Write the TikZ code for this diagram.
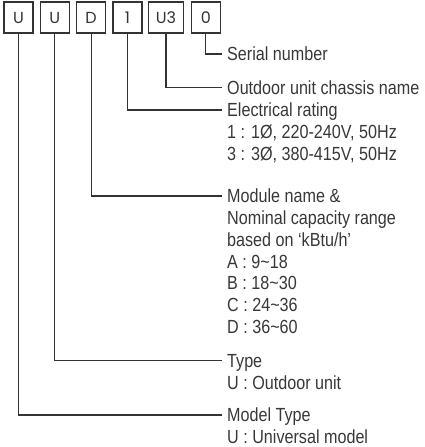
\documentclass[tikz,border=0pt]{standalone}
\usepackage{fontspec}
\setmainfont{Liberation Sans}[FakeStretch=0.85]
\newfontfamily\boxfont{Poppins}
\usetikzlibrary{positioning}

\begin{document}
\begin{tikzpicture}[node distance=36.3pt]

\useasboundingbox (0,0) rectangle (425pt,-447pt);

% Define block styles
\tikzstyle{digitbox} = [rectangle, minimum width=29pt, minimum height=31pt, inner sep=0pt, draw=black!80, line width=1.2pt, text=black!80, font=\boxfont\fontsize{16}{16}\selectfont]
\tikzstyle{headline} = [anchor=west, inner xsep=5pt, inner ysep=0pt, text height=13.6pt, text depth=0pt, text=black!78, font=\fontsize{19}{21.7}\selectfont]
\tikzstyle{detail} = [align=left, inner xsep=5pt, inner ysep=0pt, text=black!78, font=\fontsize{19}{21.7}\selectfont]
\tikzstyle{wire} = [line width=1.2pt, draw=black!80]

% Define nodes
\node (model) [digitbox] at (18.5pt,-17.5pt) {U};
\node (type) [digitbox, right of = model] {U};
\node (module) [digitbox, right of = type] {D};
\node (rating) [digitbox, right of = module] {1};
\node (chassis) [digitbox, right of = rating, xshift=2.3pt, minimum width=35pt] {U3};
\node (serial) [digitbox, right of = chassis, xshift=3.5pt] {0};

\node (serialtxt) [headline] at (222pt,-54pt) {Serial number};
\node (chassistxt) [headline] at (222pt,-87.7pt) {Outdoor unit chassis name};
\node (ratingtxt) [headline] at (222pt,-110pt) {Electrical rating};
\node (ratingdesc) [detail, below right=6.5pt and 0pt of ratingtxt.south west] {\strut 1 : 1Ø, 220-240V, 50Hz\\3 : 3Ø, 380-415V, 50Hz};
\node (moduletxt) [headline] at (222pt,-196pt) {Module name \&};
\node (moduledesc) [detail, below right=6.5pt and 0pt of moduletxt.south west] {\strut Nominal capacity range\\based on ‘kBtu/h’\\A : 9\textasciitilde18\\B : 18\textasciitilde30\\C : 24\textasciitilde36\\D : 36\textasciitilde60};
\node (typetxt) [headline] at (222pt,-360.7pt) {Type};
\node (typedesc) [detail, below right=6.5pt and 0pt of typetxt.south west] {\strut U : Outdoor unit};
\node (modeltxt) [headline] at (222pt,-415pt) {Model Type};
\node (modeldesc) [detail, below right=6.5pt and 0pt of modeltxt.south west] {\strut U : Universal model};

% Draw connectors
\draw [wire] (serial.south) |- (serialtxt.west);
\draw [wire] (chassis.south) |- (chassistxt.west);
\draw [wire] (rating.south) |- (ratingtxt.west);
\draw [wire] (module.south) |- (moduletxt.west);
\draw [wire] (type.south) |- (typetxt.west);
\draw [wire] (model.south) |- (modeltxt.west);

\end{tikzpicture}
\end{document}
